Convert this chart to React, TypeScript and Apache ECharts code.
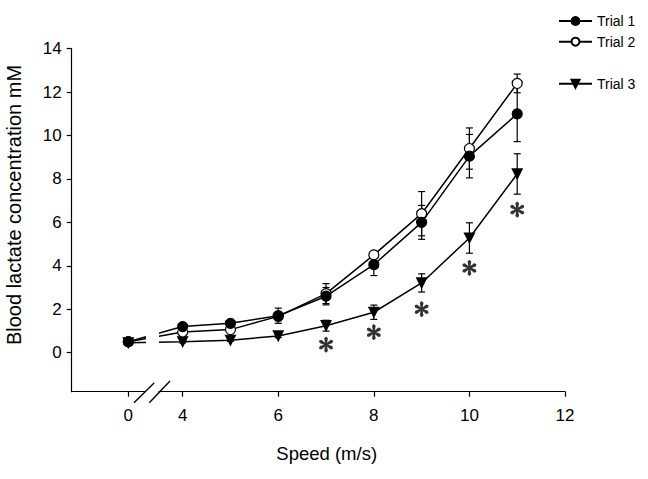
import React, { useEffect, useRef } from "react";
import * as echarts from "echarts";

// Running speeds (m/s); 0 is the resting sample, drawn across an axis break.
const SPEEDS = [0, 4, 5, 6, 7, 8, 9, 10, 11];

// Mean blood lactate (mM) and SE for each trial
const TRIAL1 = [0.5, 1.2, 1.35, 1.7, 2.6, 4.05, 6.0, 9.05, 11.0];
const TRIAL1_ERR = [0.05, 0.1, 0.1, 0.35, 0.4, 0.5, 0.78, 1.0, 1.28];
const TRIAL2 = [0.5, 0.95, 1.06, 1.67, 2.72, 4.5, 6.4, 9.4, 12.4];
const TRIAL2_ERR = [0.05, 0.1, 0.1, 0.2, 0.46, 0.12, 1.02, 0.95, 0.43];
const TRIAL3 = [0.45, 0.5, 0.57, 0.77, 1.24, 1.86, 3.21, 5.28, 8.23];
const TRIAL3_ERR = [0.03, 0.05, 0.05, 0.08, 0.25, 0.33, 0.42, 0.7, 0.93];

// Significance markers (speed, centre height of the asterisk)
const STAR_SPEEDS = [7, 8, 9, 10, 11];
const STAR_Y = [0.37, 0.94, 2.0, 3.9, 6.59];

const X_TICKS = [0, 4, 6, 8, 10, 12];
const Y_TICKS = [0, 2, 4, 6, 8, 10, 12, 14];

// Axis position used for speed 0 (left of the break)
const ZERO_POS = 2.862;
const X_MIN = 1.678;
const X_MAX = 12;
const Y_MIN = -1.8;
const Y_MAX = 14;

const FONT = "'Liberation Sans', Arial, Helvetica, sans-serif";
const INK = "#000";

const pos = (s: number) => (s === 0 ? ZERO_POS : s);

const lineData = (vals: number[]) => SPEEDS.map((s, i) => [pos(s), vals[i]]);
const errData = (vals: number[], errs: number[]) =>
  SPEEDS.map((s, i) => [pos(s), vals[i] - errs[i], vals[i] + errs[i]]);

const TRIANGLE_DOWN = "path://M0,0 L10,0 L5,9 Z";

// six-spoked asterisk: one vertical spoke and two rotated by +/-60 degrees
const ASTERISK =
  "path://M9.1,10 L7.8,2.5 L10,0.5 L12.2,2.5 L10.9,10 L12.2,17.5 L10,19.5 L7.8,17.5 Z " +
  "M9.55,9.221 L15.395,4.345 L18.227,5.25 L17.595,8.155 L10.45,10.779 L4.605,15.655 L1.773,14.75 L2.405,11.845 Z " +
  "M9.55,10.779 L2.405,8.155 L1.773,5.25 L4.605,4.345 L10.45,9.221 L17.595,11.845 L18.227,14.75 L15.395,15.655 Z";

export default function App() {
  const ref = useRef<HTMLDivElement>(null);

  useEffect(() => {
    if (!ref.current) return;
    const chart = echarts.init(ref.current, null, { renderer: "svg" });

    const errorSeries = (name: string, vals: number[], errs: number[]) => ({
      type: "custom",
      name: name + " SE",
      z: 1,
      silent: true,
      data: errData(vals, errs),
      renderItem: (params: any, api: any) => {
        const x = api.value(0);
        const lo = api.coord([x, api.value(1)]);
        const hi = api.coord([x, api.value(2)]);
        const cap = 3.5;
        const style = { stroke: INK, lineWidth: 1.2 };
        return {
          type: "group",
          children: [
            { type: "line", shape: { x1: lo[0], y1: lo[1], x2: hi[0], y2: hi[1] }, style },
            { type: "line", shape: { x1: lo[0] - cap, y1: lo[1], x2: lo[0] + cap, y2: lo[1] }, style },
            { type: "line", shape: { x1: hi[0] - cap, y1: hi[1], x2: hi[0] + cap, y2: hi[1] }, style },
          ],
        };
      },
    });

    const lineSeries = (name: string, vals: number[], symbol: string, fill: string, size: number, z: number) => ({
      type: "line",
      name,
      z,
      data: lineData(vals),
      symbol,
      symbolSize: size,
      showAllSymbol: true,
      lineStyle: { color: INK, width: 1.5 },
      itemStyle: { color: fill, borderColor: INK, borderWidth: 1.2 },
    });

    const legendText = { fontFamily: FONT, fontSize: 14, color: INK };

    chart.setOption({
      animation: false,
      backgroundColor: "#fff",
      textStyle: { fontFamily: FONT, color: INK },
      grid: { left: 71.7, right: 83, top: 48.7, bottom: 87.3, containLabel: false },
      legend: [
        {
          data: ["Trial 1", "Trial 2"],
          orient: "vertical",
          left: 553,
          top: 9,
          itemWidth: 33,
          itemHeight: 10,
          itemGap: 6.7,
          textStyle: legendText,
        },
        {
          data: ["Trial 3"],
          orient: "vertical",
          left: 553,
          top: 71.7,
          itemWidth: 33,
          itemHeight: 10,
          textStyle: legendText,
        },
      ],
      xAxis: {
        type: "value",
        min: X_MIN,
        max: X_MAX,
        splitLine: { show: false },
        axisLine: { show: true, onZero: false, lineStyle: { color: INK, width: 1.2 } },
        axisTick: {
          show: true,
          length: 5,
          customValues: X_TICKS.map(pos),
          lineStyle: { color: INK, width: 1.2 },
        },
        axisLabel: {
          customValues: X_TICKS.map(pos),
          formatter: (v: number) => (Math.abs(v - ZERO_POS) < 1e-6 ? "0" : String(Math.round(v))),
          fontFamily: FONT,
          fontSize: 17,
          color: INK,
          margin: 15,
        },
      },
      yAxis: {
        type: "value",
        min: Y_MIN,
        max: Y_MAX,
        splitLine: { show: false },
        axisLine: { show: true, lineStyle: { color: INK, width: 1.2 } },
        axisTick: { show: true, length: 5, customValues: Y_TICKS, lineStyle: { color: INK, width: 1.2 } },
        axisLabel: {
          customValues: Y_TICKS,
          fontFamily: FONT,
          fontSize: 17,
          color: INK,
          margin: 10,
        },
      },
      graphic: [
        // gap in the plotted lines between the resting value and 4 m/s
        { type: "rect", z: 100, shape: { x: 146, y: 316, width: 13, height: 36 }, style: { fill: "#fff" } },
        // axis break marks
        { type: "rect", z: 100, shape: { x: 145, y: 390, width: 13.5, height: 5 }, style: { fill: "#fff" } },
        { type: "line", z: 101, shape: { x1: 134, y1: 402.7, x2: 154.3, y2: 382.7 }, style: { stroke: INK, lineWidth: 1.4 } },
        { type: "line", z: 101, shape: { x1: 149.3, y1: 402.7, x2: 170, y2: 381 }, style: { stroke: INK, lineWidth: 1.4 } },
        {
          type: "text",
          z: 101,
          x: 13.5,
          y: 205,
          rotation: Math.PI / 2,
          style: {
            text: "Blood lactate concentration mM",
            fontFamily: FONT,
            fontSize: 20,
            fill: INK,
            align: "center",
            verticalAlign: "middle",
          },
        },
        {
          type: "text",
          z: 101,
          x: 326.7,
          y: 453,
          style: {
            text: "Speed (m/s)",
            fontFamily: FONT,
            fontSize: 18.5,
            fill: INK,
            align: "center",
            verticalAlign: "middle",
          },
        },
      ],
      series: [
        errorSeries("Trial 1", TRIAL1, TRIAL1_ERR),
        errorSeries("Trial 2", TRIAL2, TRIAL2_ERR),
        errorSeries("Trial 3", TRIAL3, TRIAL3_ERR),
        lineSeries("Trial 3", TRIAL3, TRIANGLE_DOWN, INK, 10, 3),
        lineSeries("Trial 2", TRIAL2, "circle", "#fff", 10, 4),
        lineSeries("Trial 1", TRIAL1, "circle", INK, 10, 5),
        {
          type: "scatter",
          name: "significance",
          z: 6,
          silent: true,
          symbol: ASTERISK,
          symbolSize: [14, 16.2],
          itemStyle: { color: INK },
          data: STAR_SPEEDS.map((s, i) => [pos(s), STAR_Y[i]]),
        },
      ],
    });

    return () => chart.dispose();
  }, []);

  return (
    <div
      ref={ref}
      style={{ position: "fixed", left: 0, top: 0, width: 648, height: 479, background: "#fff" }}
    />
  );
}
